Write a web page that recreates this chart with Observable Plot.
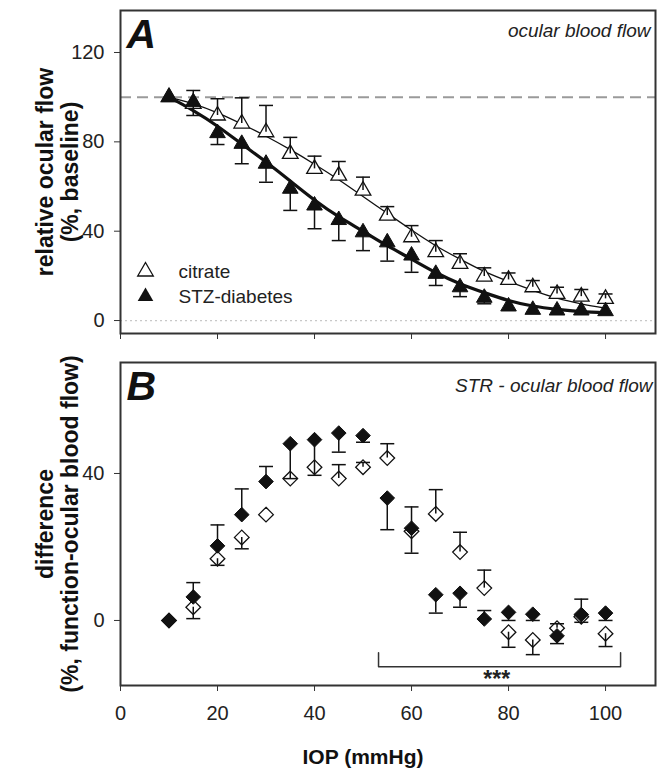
<!DOCTYPE html>
<html><head><meta charset="utf-8">
<script src="https://cdn.jsdelivr.net/npm/d3@7"></script>
<script src="https://cdn.jsdelivr.net/npm/@observablehq/plot@0.6"></script>
<style>
body{margin:0;background:#fff;}
#chart{position:relative;width:665px;height:773px;}
#chart svg{display:block;}
</style></head><body><div id="chart"></div>
<script>
// ---- data ----
const iop = [10,15,20,25,30,35,40,45,50,55,60,65,70,75,80,85,90,95,100];

// Panel A: relative ocular flow (% baseline)
const citrateFlow    = [100,97,91.8,88.2,84.3,74.6,67.9,64.9,58.2,47,37.3,30.6,25.4,19.7,18.2,14.9,11.9,10.7,9.7];
const citrateFlowBar = [null,103,99.3,99.7,96.3,82,73.6,71.2,64.2,51,42.5,35.8,29.9,23.6,21.3,17.9,14.9,13.9,11.9];
const stzFlow        = [100,97.8,83.9,79.1,70.2,59,51.5,45,39.5,35,29.1,20.9,14.9,10.2,6.3,4.8,4.5,4.5,4.2];
const stzFlowBar     = [null,91.8,78.8,70.2,61.9,49.3,41.1,35.8,31.3,26.6,21.6,15.7,10.7,7.5,null,null,null,null,null];
const citrateFit     = [100,97,93,88,82.5,76.5,70,63,55.5,48,40.5,33.5,27.5,22,17.5,13.5,10,7.5,5.5];
const stzFit         = [100,94,87,79,71,62.5,54,46.5,40,33.5,27.5,21.5,16.5,12.5,9,6.5,5,4,3.5];

// Panel B: difference (% function - ocular blood flow)
const citrateDiff    = [0,3.6,16.8,22.6,28.8,38.6,41.7,38.6,41.7,44.2,24.3,29,18.6,8.8,-3.2,-5.3,-2.1,1.0,-3.6];
const citrateDiffBar = [null,0.5,15,19.5,null,null,null,42.4,43,48.1,18.3,35.6,24,13.7,-7.3,-9.3,-0.9,-0.5,-7.1];
const stzDiff        = [0,6.4,20.3,28.8,37.8,48.1,49.2,51,50.3,33.3,25.1,7,7.4,0.4,2.2,1.7,-4.2,1.6,2];
const stzDiffBar     = [null,10.3,26,35.8,41.9,38.6,39.5,45.8,48.5,24.7,30.9,2,3.6,2.7,0,0,-6.3,5.8,0];

const xTicks = [0,20,40,60,80,100];
const yTicksA = [0,40,80,120];
const yTicksB = [0,40];
const baselineLevel = 100;
const sigBracketX = [53.2,103.1];
const sigBracketY = [-8.8,-12.6];
const sigLabel = "***";

// ---- tables ----
const rows = (vals, bars, fit) => iop.map((x,i)=>({x, y: vals[i], bar: bars[i], fit: fit ? fit[i] : null}));
const citA = rows(citrateFlow, citrateFlowBar, citrateFit);
const stzA = rows(stzFlow, stzFlowBar, stzFit);
const citB = rows(citrateDiff, citrateDiffBar);
const stzB = rows(stzDiff, stzDiffBar);
const bracket = [
  {x: sigBracketX[0], y: sigBracketY[0]},
  {x: sigBracketX[0], y: sigBracketY[1]},
  {x: sigBracketX[1], y: sigBracketY[1]},
  {x: sigBracketX[1], y: sigBracketY[0]}
];

const cap = {draw(ctx, size){ const r = Math.sqrt(size/Math.PI); ctx.moveTo(-r,0); ctx.lineTo(r,0); }};
const FONT = "'Liberation Sans', Arial, Helvetica, sans-serif";
const NARROW = "'Liberation Sans Narrow', 'Arial Narrow', 'Liberation Sans', Arial, sans-serif";
const INK = "#111";

function errorMarks(data){
  const d = data.filter(r => r.bar != null);
  return [
    Plot.ruleX(d, {x:"x", y1:"y", y2:"bar", stroke:INK, strokeWidth:1.5}),
    Plot.dot(d, {x:"x", y:"bar", symbol:cap, r:7, stroke:INK, strokeWidth:1.5, fill:"none"})
  ];
}

const common = {
  width: 665, marginLeft: 120, marginRight: 10,
  x: {domain: [0, 110.3]},
  style: {fontFamily: FONT, fontSize: "19px", color: "#222", background: "white", overflow: "visible"}
};

const yTitle = (txt) => Plot.text([txt], {frameAnchor:"left", rotate:-90, dx:-63.5, textAnchor:"middle", lineAnchor:"middle", lineHeight:1.09, fontSize:23, fontWeight:"bold", fontFamily:NARROW, fill:"#111"});

// ---- Panel A ----
const plotA = Plot.plot({
  ...common,
  height: 345, marginTop: 10, marginBottom: 12,
  y: {domain: [-5.8, 138.8]},
  marks: [
    Plot.ruleY([0], {stroke:"#c8c8c8", strokeWidth:1.2, strokeDasharray:"2,3"}),
    Plot.ruleY([baselineLevel], {stroke:"#9a9a9a", strokeWidth:2, strokeDasharray:"11,6"}),
    Plot.line(citA, {x:"x", y:"fit", curve:"natural", stroke:INK, strokeWidth:1.3}),
    Plot.line(stzA, {x:"x", y:"fit", curve:"natural", stroke:INK, strokeWidth:3.2}),
    Plot.dot(citA, {x:"x", y:"y", symbol:"triangle", r:5.8, fill:"white", stroke:INK, strokeWidth:1.3}),
    ...errorMarks(citA),
    ...errorMarks(stzA),
    Plot.dot(stzA, {x:"x", y:"y", symbol:"triangle", r:5.8, fill:INK, stroke:INK, strokeWidth:1}),
    Plot.frame({stroke:"#333", strokeWidth:2}),
    Plot.axisY({ticks:yTicksA, tickSize:6, tickPadding:10, fontSize:20, label:null, stroke:"#333"}),
    Plot.axisX({ticks:xTicks, tickSize:6, tickFormat:()=>"", label:null, stroke:"#333"}),
    Plot.text(["A"], {frameAnchor:"top-left", dx:6, dy:8, textAnchor:"start", lineAnchor:"top", fontSize:41, fontWeight:"bold", fontStyle:"italic", fill:"#111"}),
    Plot.text(["ocular blood flow"], {frameAnchor:"top-right", dx:-5, dy:13, textAnchor:"end", lineAnchor:"top", fontSize:19, fontStyle:"italic", fill:"#222"}),
    // legend
    Plot.dot(["citrate"], {frameAnchor:"top-left", dx:25, dy:261, symbol:"triangle", r:5.8, fill:"white", stroke:INK, strokeWidth:1.3}),
    Plot.text(["citrate"], {frameAnchor:"top-left", dx:58, dy:261, textAnchor:"start", lineAnchor:"middle", fontSize:19, fill:"#222"}),
    Plot.dot(["STZ-diabetes"], {frameAnchor:"top-left", dx:25, dy:286, symbol:"triangle", r:5.8, fill:INK}),
    Plot.text(["STZ-diabetes"], {frameAnchor:"top-left", dx:58, dy:286, textAnchor:"start", lineAnchor:"middle", fontSize:19, fill:"#222"}),
    yTitle("relative ocular flow\n(%, baseline)")
  ]
});

// ---- Panel B ----
const plotB = Plot.plot({
  ...common,
  height: 428, marginTop: 17, marginBottom: 88,
  y: {domain: [-17.7, 70.2]},
  marks: [
    Plot.dot(citB, {x:"x", y:"y", symbol:"diamond2", r:6.6, fill:"white", stroke:INK, strokeWidth:1.3}),
    ...errorMarks(citB),
    ...errorMarks(stzB),
    Plot.dot(stzB, {x:"x", y:"y", symbol:"diamond2", r:6.6, fill:INK, stroke:INK, strokeWidth:1}),
    Plot.line(bracket, {x:"x", y:"y", stroke:"#333", strokeWidth:1.5}),
    Plot.text([sigLabel], {x: (sigBracketX[0]+sigBracketX[1])/2 - 0.6, y: sigBracketY[1], dy:4, textAnchor:"middle", lineAnchor:"top", fontSize:23, fontWeight:"bold", fill:"#222"}),
    Plot.frame({stroke:"#333", strokeWidth:2}),
    Plot.axisY({ticks:yTicksB, tickSize:6, tickPadding:10, fontSize:20, label:null, stroke:"#333"}),
    Plot.axisX({ticks:xTicks, tickSize:6, tickPadding:14, fontSize:20, label:null, stroke:"#333"}),
    Plot.text(["STR - ocular blood flow"], {frameAnchor:"top-right", dx:-3, dy:16, textAnchor:"end", lineAnchor:"top", fontSize:19, fontStyle:"italic", fill:"#222"}),
    Plot.text(["B"], {frameAnchor:"top-left", dx:6, dy:8, textAnchor:"start", lineAnchor:"top", fontSize:41, fontWeight:"bold", fontStyle:"italic", fill:"#111"}),
    yTitle("difference\n(%, function-ocular blood flow)"),
    Plot.text(["IOP (mmHg)"], {frameAnchor:"bottom", dx:-25, dy:72, textAnchor:"middle", lineAnchor:"middle", fontSize:21, fontWeight:"bold", fill:"#111"})
  ]
});

const chart = document.getElementById("chart");
chart.appendChild(plotA);
chart.appendChild(plotB);
</script>
</body></html>
